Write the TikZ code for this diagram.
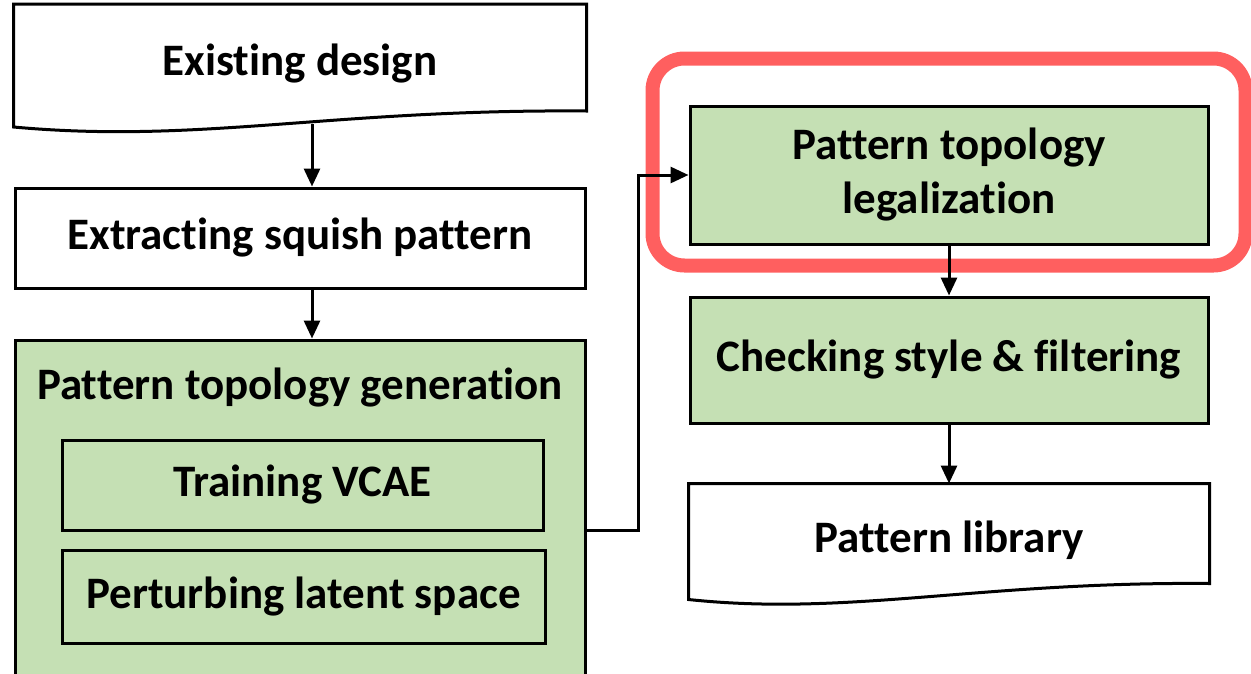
\documentclass[tikz,border=0pt]{standalone}
\usepackage{fontspec}
\setmainfont{Carlito}[RawFeature={-liga;-clig;-dlig;-calt}]
\usepackage{xcolor}
\definecolor{stepgreen}{HTML}{C5E0B4}
\definecolor{hilite}{HTML}{FF5F5F}
\usepackage{tikz}
\usetikzlibrary{positioning,arrows.meta,calc}
\newcommand{\docwave}[1]{%
  \draw[line width=3pt, line join=miter]
    (#1.south west) -- (#1.north west) -- (#1.north east) -- ($(#1.south east)+(0,-13)$)
    .. controls ($(#1.south)+(30,-15)$) and ($(#1.south)+(-100,20)$) .. ($(#1.south west)+(0,3)$) -- cycle;}

\begin{document}
\begin{tikzpicture}[x=1pt, y=-1pt,
  box/.style={draw, line width=3pt, font=\fontsize{45}{54}\selectfont\bfseries, align=center, inner sep=0pt},
  greenbox/.style={box, fill=stepgreen},
  flow/.style={-{Triangle[length=18pt,width=16pt]}, line width=3pt}]
  \clip (0,0) rectangle (1251,673);
  \node[box, draw=none, minimum width=570pt, minimum height=117pt] (exist) at (300,64) {Existing design};
  \docwave{exist}
  \node[box, minimum width=570pt, minimum height=100pt] (extract) at (300,238) {Extracting squish pattern};
  \node[greenbox, minimum width=570pt, minimum height=380pt] (gen) at (300,530) {};
  \node[box, draw=none] (gentitle) at (300,388) {Pattern topology generation};
  \node[box, minimum width=481pt, minimum height=90pt] (vcae) at (302.5,485) {Training VCAE};
  \node[box, minimum width=483pt, minimum height=93pt] (perturb) at (303.5,596.5) {Perturbing latent space};
  \node[greenbox, minimum width=518pt, minimum height=138pt] (legal) at (949,175) {Pattern topology\\legalization};
  \node[greenbox, minimum width=518pt, minimum height=126pt] (check) at (949,360) {Checking style \& filtering};
  \node[box, draw=none, minimum width=518pt, minimum height=110pt] (lib) at (949,540) {Pattern library};
  \docwave{lib}
  \draw[hilite, line width=14pt, rounded corners=32pt]
       ($(legal.north west)+(-36,-46)$) rectangle ($(legal.south east)+(36,20)$);
  \draw[flow] ([xshift=12pt]exist.south) -- ([xshift=12pt]extract.north);
  \draw[flow] ([xshift=12pt]extract.south) -- ([xshift=12pt]gen.north);
  \draw[flow] (gen.east) -- ++(52,0) |- (legal.west);
  \draw[flow] (legal) -- (check);
  \draw[flow] (check) -- (lib);
\end{tikzpicture}
\end{document}
